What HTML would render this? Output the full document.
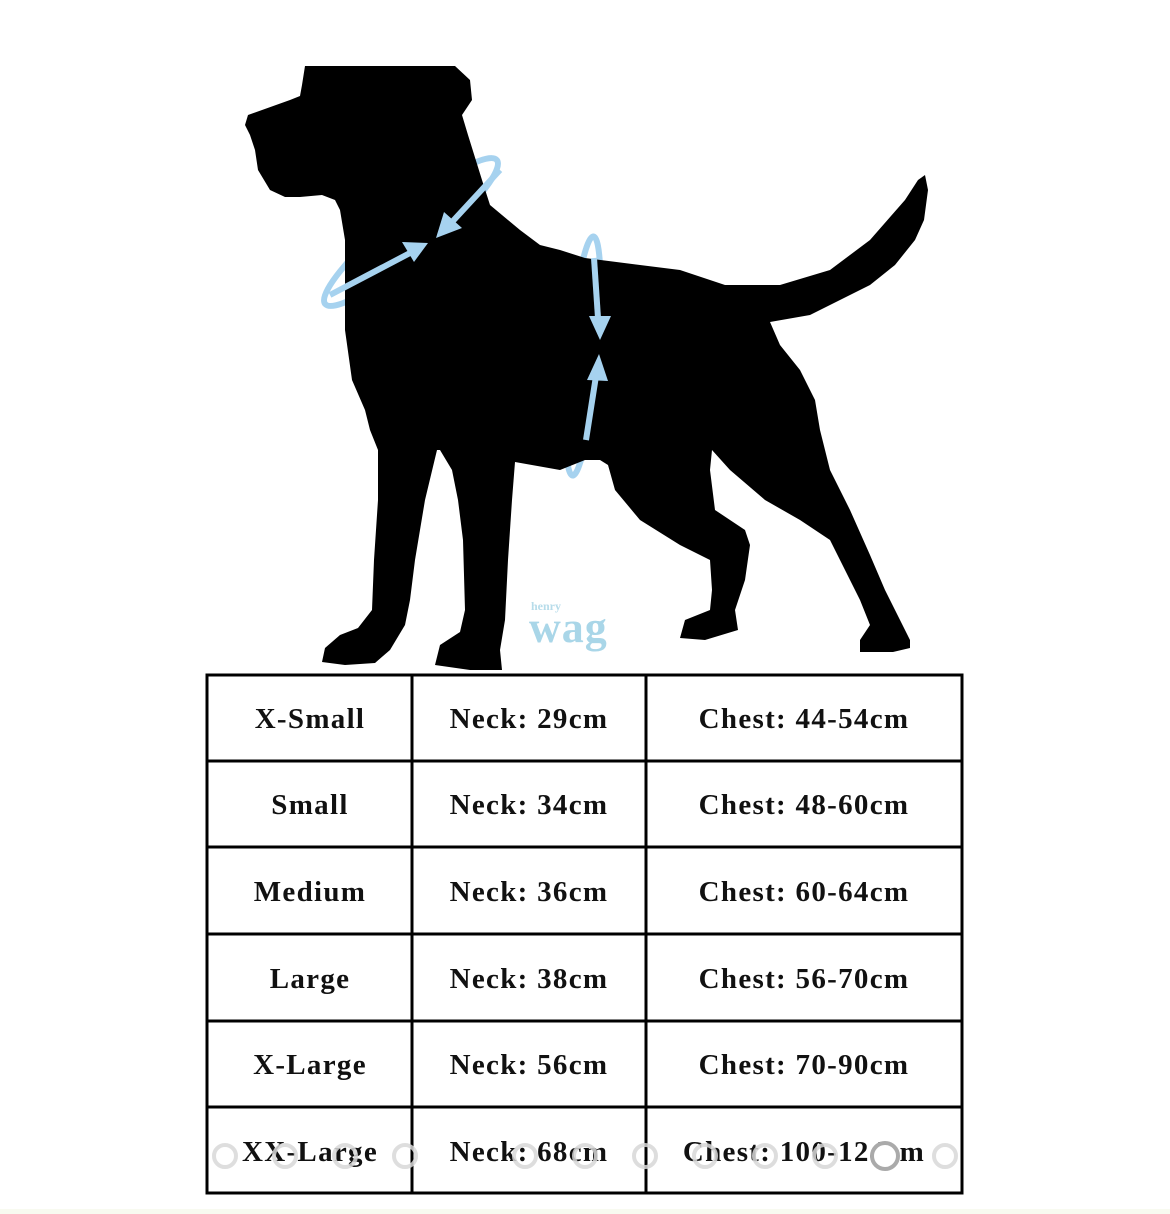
<!DOCTYPE html>
<html><head><meta charset="utf-8"><style>
html,body{margin:0;padding:0;background:#fff;}
body{width:1170px;height:1214px;position:relative;overflow:hidden;}
svg{position:absolute;left:0;top:0;}
</style></head><body>
<svg width="1170" height="1214" viewBox="0 0 1170 1214">
<g fill="none" stroke="#a6d2ef" stroke-width="6">
<ellipse cx="411" cy="232" rx="112" ry="22" transform="rotate(-40 411 232)"/>
<ellipse cx="583" cy="356" rx="14" ry="120" transform="rotate(5 583 356)"/>
</g>
<path fill="#000" d="M305,66 L455,66 L470,80 L472,100 L462,115 L468,135 L482,180 L490,205 L520,230 L540,245 L560,250 L585,258 L640,265 L680,270 L725,285 L780,285 L830,270 L870,240 L905,200 L918,180 L925,175 L928,190 L924,220 L915,240 L895,265 L870,285 L840,300 L810,315 L770,322 L780,345 L800,370 L815,400 L820,430 L830,470 L850,510 L870,555 L885,590 L900,620 L910,640 L910,648 L893,652 L860,652 L860,640 L870,625 L860,600 L845,570 L830,540 L800,520 L765,500 L730,470 L712,450 L710,470 L715,510 L745,530 L750,545 L745,580 L735,610 L738,630 L705,640 L680,638 L685,620 L710,610 L712,590 L710,560 L680,545 L640,520 L615,490 L608,465 L600,460 L585,460 L560,470 L515,462 L512,500 L508,560 L505,620 L500,650 L502,670 L470,670 L435,665 L440,645 L460,632 L465,610 L463,540 L458,500 L452,470 L440,450 L437,450 L425,500 L415,560 L410,600 L405,625 L390,650 L375,663 L345,665 L322,662 L325,648 L340,635 L358,628 L372,610 L374,560 L378,500 L378,450 L370,430 L365,410 L352,380 L345,330 L345,270 L345,240 L340,210 L335,200 L322,195 L300,197 L285,197 L270,190 L258,170 L255,150 L250,135 L245,125 L248,115 L290,100 L300,96 L302,85 Z"/>
<g stroke="#a6d2ef" stroke-width="6" fill="#a6d2ef">
<line x1="500" y1="170" x2="452" y2="222"/>
<polygon points="436,238 444,212 462,228" stroke="none"/>
<line x1="330" y1="295" x2="410" y2="253"/>
<polygon points="428,243 402,242 414,262" stroke="none"/>
<line x1="594" y1="258" x2="598" y2="318"/>
<polygon points="600,340 589,316 611,316" stroke="none"/>
<line x1="586" y1="440" x2="596" y2="376"/>
<polygon points="599,354 587,380 608,381" stroke="none"/>
</g>
<text x="531" y="610" font-family="Liberation Serif,serif" font-size="12" font-weight="bold" fill="#b7dcea">henry</text>
<text x="529" y="642" font-family="Liberation Serif,serif" font-size="44" font-weight="bold" fill="#a9d6e8" letter-spacing="1">wag</text>
<rect x="0" y="1209" width="1170" height="5" fill="#f8faf0"/>
<g stroke="#000" stroke-width="3" fill="none">
<rect x="207" y="675" width="755" height="518"/>
<line x1="207" y1="761" x2="962" y2="761"/>
<line x1="207" y1="847" x2="962" y2="847"/>
<line x1="207" y1="934" x2="962" y2="934"/>
<line x1="207" y1="1021" x2="962" y2="1021"/>
<line x1="207" y1="1107" x2="962" y2="1107"/>
<line x1="412" y1="675" x2="412" y2="1193"/>
<line x1="646" y1="675" x2="646" y2="1193"/>
</g>
<g font-family="Liberation Serif,serif" font-weight="bold" font-size="29" fill="#111" text-anchor="middle" letter-spacing="1.3">
<text x="310" y="728">X-Small</text><text x="529" y="728">Neck: 29cm</text><text x="804" y="728">Chest: 44-54cm</text>
<text x="310" y="814">Small</text><text x="529" y="814">Neck: 34cm</text><text x="804" y="814">Chest: 48-60cm</text>
<text x="310" y="901">Medium</text><text x="529" y="901">Neck: 36cm</text><text x="804" y="901">Chest: 60-64cm</text>
<text x="310" y="988">Large</text><text x="529" y="988">Neck: 38cm</text><text x="804" y="988">Chest: 56-70cm</text>
<text x="310" y="1074">X-Large</text><text x="529" y="1074">Neck: 56cm</text><text x="804" y="1074">Chest: 70-90cm</text>
<text x="310" y="1161">XX-Large</text><text x="529" y="1161">Neck: 68cm</text><text x="804" y="1161">Chest: 100-124cm</text>
</g>
<g fill="none" stroke="#d8d8d8" stroke-width="4" opacity="0.85">
<circle cx="225" cy="1156" r="11"/><circle cx="285" cy="1156" r="11"/><circle cx="345" cy="1156" r="11"/><circle cx="405" cy="1156" r="11"/><circle cx="525" cy="1156" r="11"/><circle cx="585" cy="1156" r="11"/><circle cx="645" cy="1156" r="11"/><circle cx="705" cy="1156" r="11"/><circle cx="765" cy="1156" r="11"/><circle cx="825" cy="1156" r="11"/><circle cx="945" cy="1156" r="11"/>
</g>
<circle cx="885" cy="1156" r="13" fill="#fff" stroke="#aaa" stroke-width="4"/>
</svg>
</body></html>
